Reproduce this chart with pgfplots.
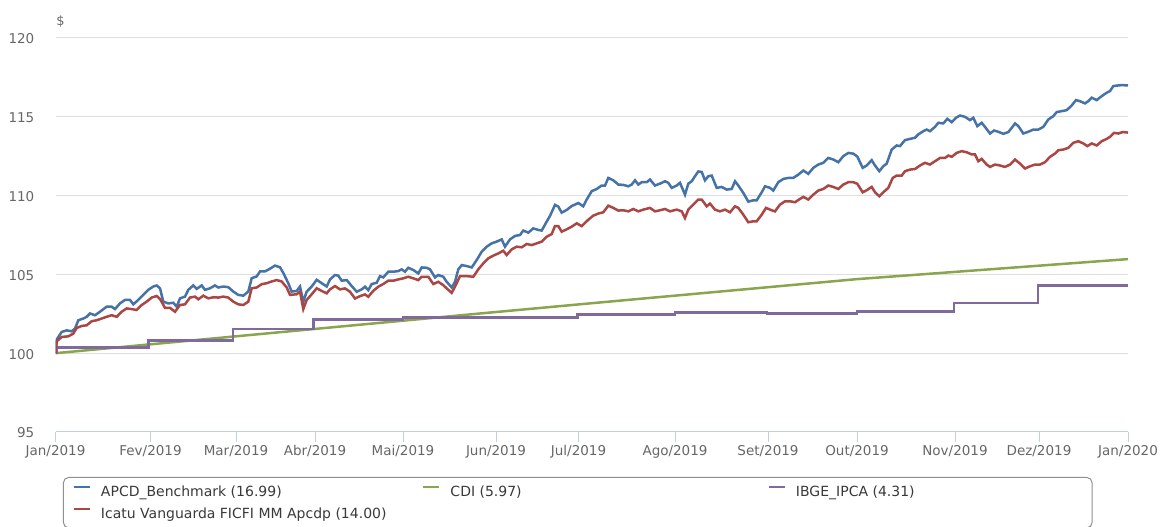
\documentclass[border=0pt]{standalone}
\usepackage{pgfplots}
\pgfplotsset{compat=1.18}
\usepackage{fontspec}
\setmainfont{DejaVu Sans}
\definecolor{cblue}{HTML}{4572A7}
\definecolor{cred}{HTML}{AA4643}
\definecolor{cgreen}{HTML}{89A54E}
\definecolor{cpurple}{HTML}{80699B}
\definecolor{axisc}{HTML}{C0D0E0}
\definecolor{gridc}{HTML}{DEDEDE}
\definecolor{labc}{HTML}{666666}
\definecolor{legc}{HTML}{909090}
\definecolor{legtext}{HTML}{3A3A3A}
\newcommand{\yl}[1]{\makebox[0pt][r]{#1\hspace*{10.5pt}}}
\begin{document}
\begin{tikzpicture}[x=1pt,y=1pt]
\begin{axis}[
  at={(0pt,0pt)}, anchor=south west,
  scale only axis, width=1072.5pt, height=394pt,
  xmin=55.5, xmax=1128, ymin=95, ymax=120,
  ytick={95,100,105,110,115,120},
  yticklabels={\yl{95},\yl{100},\yl{105},\yl{110},\yl{115},\yl{120}},
  xtick={55.5,150.5,236,315,403,496,578.5,675,768,857,955,1039,1128},
  xticklabels={Jan/2019,Fev/2019,Mar/2019,Abr/2019,Mai/2019,Jun/2019,Jul/2019,Ago/2019,Set/2019,Out/2019,Nov/2019,Dez/2019,Jan/2020},
  axis lines*=left,
  y axis line style={draw=none},
  x axis line style={draw=axisc, line width=1pt},
  tick align=outside, major tick length=10pt,
  xtick style={draw=axisc, line width=1pt},
  ytick style={draw=none},
  ymajorgrids, major grid style={draw=gridc, line width=1pt},
  tick label style={font=\fontsize{13.5}{15}\selectfont, text=labc},
  yticklabel style={anchor=east, inner sep=0pt, yshift=-1pt},
  xticklabel style={anchor=north, inner sep=0pt, yshift=-3pt},
  title={\$},
  title style={at={(axis description cs:0.00466,1.0254)}, anchor=center, inner sep=0pt, font=\fontsize{13}{15}\selectfont, text=labc},
  legend columns=3,
  legend cell align=left,
  legend image code/.code={\draw[#1, line width=2.5pt] (0pt,4.5pt) -- (16pt,4.5pt);},
  legend style={at={(axis description cs:0.00699,-0.1142)}, anchor=north west,
    draw=legc, line width=1pt, rounded corners=5pt, inner xsep=9pt, inner ysep=8pt,
    column sep=0pt, row sep=10pt,
    nodes={inner sep=0pt, font=\fontsize{14}{16}\selectfont, text=legtext}},
]
% APCD_Benchmark
\addplot[cblue, line width=2.5pt] coordinates {
(55.5,100.0) (57,100.9) (61.7,101.35) (66.7,101.45) (71.7,101.39) (75,101.56) (78.3,102.09) (83.3,102.2) (86.7,102.31) (90,102.52) (95,102.41) (100,102.63) (106.7,102.95) (111.7,102.95) (115,102.8) (120,103.16) (125,103.38) (130,103.38) (133.3,103.1) (138.3,103.38) (143.3,103.7) (148.3,104.02) (153.3,104.23) (156.7,104.3) (160,104.12) (163.3,103.27) (168.3,103.16) (173.3,103.2) (176.7,102.95) (180,103.48) (185,103.59) (188.3,104.02) (193.3,104.3) (196.7,104.08) (201.7,104.3) (205,104.02) (210,104.12) (215,104.3) (218.3,104.17) (223.3,104.23) (228.3,104.19) (233.3,103.91) (238.3,103.7) (243.3,103.65) (248.3,103.91) (251.7,104.76) (256.7,104.87) (260,105.19) (265,105.19) (270,105.36) (275,105.56) (280,105.45) (283.3,105.09) (288.3,104.44) (291.7,103.91) (296.7,103.95) (300,104.23) (303.3,103.27) (306.7,103.91) (311.7,104.23) (316.7,104.66) (321.7,104.44) (326.7,104.23)
(330,104.68) (335,104.96) (338.3,104.92) (341.7,104.6) (346.7,104.64) (351.7,104.26) (356.7,103.9) (361.7,104.05) (365,104.22) (368.3,104.0) (371.7,104.39) (376.7,104.47) (380,104.89) (383.3,104.81) (388.3,105.17) (393.3,105.17) (398.3,105.21) (401.7,105.32) (405,105.17) (408.3,105.42) (413.3,105.28) (418.3,105.06) (421.7,105.44) (426.7,105.42) (430,105.32) (435,104.81) (438.3,104.96) (443.3,104.85) (446.7,104.53) (451.7,104.17) (455,104.53) (458.3,105.32) (461.7,105.59) (466.7,105.53) (471.7,105.44) (476.7,105.91) (481.7,106.44) (486.7,106.76) (491.7,106.97) (496.7,107.08) (501.7,107.22) (505,106.76) (510,107.22) (515,107.44) (520,107.5) (523.3,107.78) (528.3,107.65) (533.3,107.92) (538.3,107.82) (541.7,107.78) (546.7,108.35) (550,108.71) (555,109.41) (558.3,109.3) (561.7,108.92) (566.7,109.09) (571.7,109.34)
(575,109.43) (578.3,109.53) (583.3,109.32) (586.7,109.75) (591.7,110.28) (596.7,110.42) (601.7,110.64) (605,110.64) (608.3,111.12) (613.3,110.97) (618.3,110.7) (623.3,110.68) (628.3,110.59) (631.7,110.7) (635,110.97) (638.3,110.7) (641.7,110.85) (646.7,110.85) (650,111.02) (655,110.64) (660,110.76) (665,110.91) (668.3,110.81) (671.7,110.49) (676.7,110.64) (680,110.81) (685,110.06) (688.3,110.76) (691.7,110.91) (695,111.23) (698.3,111.53) (701.7,111.5) (705,110.97) (708.3,111.23) (711.7,111.27) (716.7,110.49) (721.7,110.55) (726.7,110.38) (731.7,110.42) (735,110.91) (738.3,110.64) (743.3,110.17) (748.3,109.62) (753.3,109.7) (756.7,109.7) (761.7,110.21) (765,110.59) (770,110.49) (773.3,110.32) (778.3,110.85) (783.3,111.06) (788.3,111.12) (793.3,111.12) (798.3,111.33) (803.3,111.59) (808.3,111.38) (813.3,111.76) (818.3,111.97) (823.3,112.08) (828.3,112.39) (833.3,112.29) (838.3,112.12) (843.3,112.5) (848.3,112.71) (853.3,112.66) (857.3,112.48)
(862.7,111.76) (866.7,111.91) (871.7,112.25) (875,111.91) (879.3,111.55) (883.3,111.86) (886.7,112.03) (891.7,112.92) (896.7,113.18) (900,113.14) (905,113.52) (910,113.6) (915,113.67) (918.3,113.88) (923.3,114.09) (926.7,114.19) (930,114.09) (935,114.36) (938.3,114.62) (943.3,114.58) (947.3,114.87) (951.7,114.66) (956,114.94) (960,115.08) (965,115.0) (970,114.79) (973.3,114.94) (977.3,114.41) (981.7,114.62) (985,114.36) (990,113.94) (994,114.13) (998.3,114.05) (1003.3,113.92) (1008.3,114.03) (1011.7,114.3) (1015,114.58) (1018.3,114.41) (1023.3,113.94) (1028.3,114.05) (1033.3,114.19) (1038.3,114.19) (1043.3,114.36) (1048.3,114.83) (1053.3,115.04) (1056.7,115.3) (1061.7,115.36) (1066.7,115.42) (1071.7,115.72) (1076,116.06) (1080,115.99) (1085,115.85) (1088.3,115.99) (1091.7,116.21) (1096.7,116.06) (1101.7,116.31) (1106.7,116.53) (1110,116.63) (1113.3,116.95) (1118.3,116.99) (1121.7,117.01) (1128,116.99)
};
\addlegendentry{\makebox[331pt][l]{\hspace*{10pt}APCD\_Benchmark (16.99)}}
% CDI
\addplot[cgreen, line width=2.5pt] coordinates {
(55.5,100.0) (320,101.57) (480,102.52) (600,103.22) (857,104.70) (1128,105.97)
};
\addlegendentry{\makebox[327pt][l]{\hspace*{10pt}CDI (5.97)}}
% IBGE_IPCA
\addplot[cpurple, line width=2.5pt, const plot] coordinates {
(55.5,100.0) (57,100.35) (148.5,100.80) (233,101.55) (313.5,102.13) (403,102.28) (577.5,102.46) (675,102.58) (767,102.53) (857,102.64) (954,103.17) (1038,104.31) (1128,104.31)
};
\addlegendentry{\makebox[297pt][l]{\hspace*{10pt}IBGE\_IPCA (4.31)}}
% Icatu
\addplot[cred, line width=2.5pt] coordinates {
(55.5,100.0) (56.7,100.75) (61.7,101.03) (68.3,101.07) (73.3,101.24) (76.7,101.6) (81.7,101.73) (86.7,101.77) (91.7,102.03) (96.7,102.09) (101.7,102.2) (106.7,102.31) (111.7,102.41) (116.7,102.31) (121.7,102.63) (126.7,102.84) (131.7,102.8) (136.7,102.74) (141.7,103.06) (146.7,103.27) (151.7,103.53) (156.7,103.63) (160,103.44) (165,102.88) (170,102.88) (175,102.63) (180,103.06) (185,103.1) (190,103.53) (195,103.59) (198.3,103.42) (203.3,103.65) (208.3,103.48) (213.3,103.55) (218.3,103.53) (223.3,103.59) (228.3,103.53) (233.3,103.27) (238.3,103.1) (243.3,103.06) (248.3,103.27) (251.7,104.12) (256.7,104.17) (261.7,104.38) (266.7,104.44) (271.7,104.55) (276.7,104.64) (281.7,104.55) (286.7,104.17) (290,103.7) (296.7,103.74) (300,103.91) (303.3,102.8) (306.7,103.38) (311.7,103.74) (316.7,104.12) (321.7,103.95) (326.7,103.8)
(330,104.05) (335,104.26) (340,104.05) (345,104.11) (350,103.9) (355,103.47) (360,103.62) (365,103.73) (368.3,103.58) (373.3,103.96) (378.3,104.22) (383.3,104.39) (388.3,104.6) (393.3,104.6) (398.3,104.68) (403.3,104.75) (408.3,104.85) (413.3,104.75) (418.3,104.64) (421.7,104.85) (428.3,104.85) (433.3,104.39) (438.3,104.53) (443.3,104.32) (446.7,104.11) (451.7,103.83) (455,104.22) (460,104.89) (466.7,104.89) (473.3,104.85) (478.3,105.32) (483.3,105.7) (488.3,106.02) (493.3,106.19) (498.3,106.33) (503.3,106.5) (506.7,106.23) (511.7,106.59) (516.7,106.76) (521.7,106.72) (526.7,106.93) (531.7,106.86) (536.7,106.97) (541.7,107.08) (546.7,107.39) (551.7,107.56) (555,108.07) (558.3,108.07) (561.7,107.71) (566.7,107.86) (571.7,108.03)
(576.7,108.24) (581.7,108.06) (588.3,108.47) (593.3,108.73) (598.3,108.86) (603.3,108.94) (608.3,109.36) (613.3,109.22) (618.3,109.05) (623.3,109.07) (628.3,109.0) (633.3,109.15) (638.3,109.0) (643.3,109.11) (650,109.22) (655,109.0) (660,109.07) (665,109.15) (670,109.0) (676.7,109.11) (681.7,109.0) (685,108.58) (688.3,109.11) (693.3,109.43) (698.3,109.75) (701.7,109.75) (706.7,109.32) (710,109.49) (715,109.11) (720,109.0) (725,109.11) (730,108.94) (735,109.32) (738.3,109.22) (743.3,108.79) (748.3,108.31) (753.3,108.37) (756.7,108.37) (761.7,108.79) (766,109.22) (771.7,109.07) (775,109.0) (780,109.43) (785,109.64) (790,109.64) (795,109.58) (800,109.79) (803.3,109.92) (808.3,109.75) (813.3,110.06) (818.3,110.32) (823.3,110.42) (828.3,110.64) (833.3,110.55) (838.3,110.42) (843.3,110.7) (848.3,110.85) (853.3,110.85) (857.3,110.75)
(862.7,110.21) (866.7,110.34) (871.7,110.55) (875,110.21) (879.3,109.96) (883.3,110.21) (888.3,110.49) (892.7,111.12) (896.7,111.27) (901.7,111.27) (905,111.55) (910,111.65) (915,111.69) (920,111.91) (925,112.08) (930,111.97) (935,112.18) (940,112.39) (945,112.39) (948.3,112.54) (951.7,112.46) (956.7,112.71) (961.7,112.82) (966.7,112.75) (971.7,112.61) (975,112.61) (978.3,112.18) (981.7,112.33) (986.7,111.97) (990,111.82) (995,111.97) (1000,111.91) (1005,111.82) (1010,111.97) (1015,112.29) (1020,112.03) (1025,111.72) (1030,111.86) (1035,111.97) (1040,111.97) (1045,112.12) (1050,112.46) (1055,112.67) (1058.3,112.88) (1063.3,112.92) (1068.3,113.03) (1073.3,113.35) (1078.3,113.45) (1083.3,113.31) (1087.3,113.14) (1091.7,113.31) (1096.7,113.18) (1101.7,113.45) (1106.7,113.6) (1110,113.73) (1114,113.98) (1118.3,113.94) (1122.7,114.03) (1128,114.0)
};
\addlegendentry{\makebox[331pt][l]{\hspace*{10pt}Icatu Vanguarda FICFI MM Apcdp (14.00)\rule[-12pt]{0pt}{12pt}}}
\end{axis}
\pgfresetboundingbox
\useasboundingbox (-55.5pt,-95pt) rectangle (1107.5pt,432pt);
\end{tikzpicture}
\end{document}
